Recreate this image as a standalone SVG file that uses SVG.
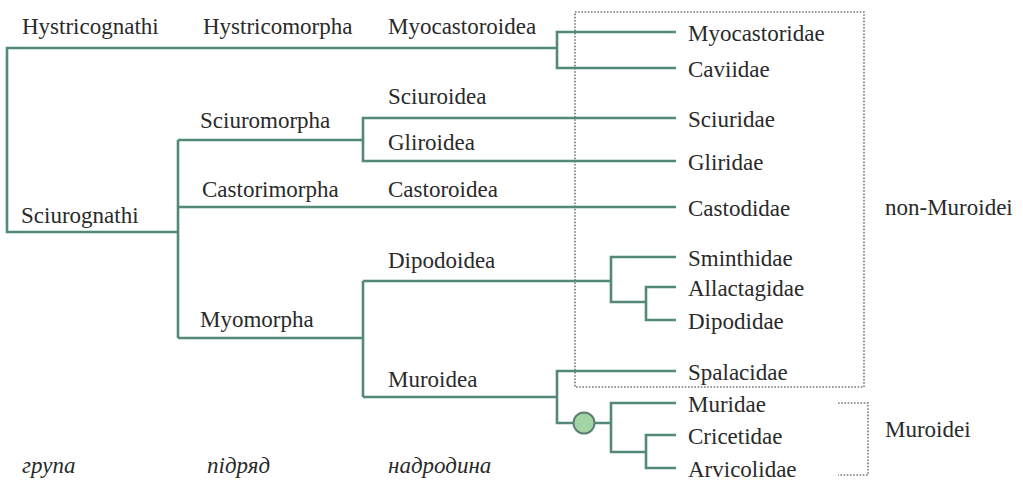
<svg xmlns="http://www.w3.org/2000/svg" width="1023" height="483" viewBox="0 0 1023 483">
<style>
text{font-family:'Liberation Serif','Times New Roman',Times,'DejaVu Serif',serif;font-size:23px;fill:#2a2a2a}
.i{font-style:italic}
.c{fill:none;stroke:#52897a;stroke-width:2.6}
.d{fill:none;stroke:#777;stroke-width:1.6;stroke-dasharray:1.6 1.6}
</style>
<rect width="1023" height="483" fill="#fff"/>
<g id="box-nonmuroidei">
<rect x="575" y="12" width="289" height="375" fill="#ebedec" class="d"/>
<text x="885" y="215">non-Muroidei</text>
</g>
<g id="connectors">
<path class="c" d="M557,48 H7 V232 H178"/>
<path class="c" d="M676,32 H557 V68 H676"/>
<path class="c" d="M178,140 V338"/>
<path class="c" d="M178,140 H363"/>
<path class="c" d="M178,207 H676"/>
<path class="c" d="M178,338 H363"/>
<path class="c" d="M676,118 H363 V161 H676"/>
<path class="c" d="M363,281 V397"/>
<path class="c" d="M363,281 H611"/>
<path class="c" d="M363,397 H557"/>
<path class="c" d="M676,257 H611 V302 H646"/>
<path class="c" d="M676,287 H646 V320 H676"/>
<path class="c" d="M676,371 H557 V423 H611"/>
<path class="c" d="M676,403 H611 V452 H646"/>
<path class="c" d="M676,435 H646 V468 H676"/>
</g>
<g id="node-muroidei-root">
<circle cx="584" cy="423" r="10.5" fill="#a3d4a6" stroke="#5e7f72" stroke-width="2"/>
</g>
<g id="ranks">
<text class="i" x="22" y="473">група</text>
<text class="i" x="207" y="473">підряд</text>
<text class="i" x="388" y="473">надродина</text>
</g>
<g id="groups">
<text x="22" y="34">Hystricognathi</text>
<text x="21" y="223">Sciurognathi</text>
</g>
<g id="suborders">
<text x="203" y="34">Hystricomorpha</text>
<text x="200" y="128">Sciuromorpha</text>
<text x="202" y="197">Castorimorpha</text>
<text x="200" y="327">Myomorpha</text>
</g>
<g id="superfamilies">
<text x="388" y="34">Myocastoroidea</text>
<text x="388" y="104">Sciuroidea</text>
<text x="388" y="150">Gliroidea</text>
<text x="388" y="197">Castoroidea</text>
<text x="388" y="268">Dipodoidea</text>
<text x="388" y="387">Muroidea</text>
</g>
<g id="families">
<text x="688" y="40.5">Myocastoridae</text>
<text x="688" y="76.5">Caviidae</text>
<text x="688" y="126.5">Sciuridae</text>
<text x="688" y="169.5">Gliridae</text>
<text x="688" y="215.5">Castodidae</text>
<text x="688" y="265.5">Sminthidae</text>
<text x="688" y="295.5">Allactagidae</text>
<text x="688" y="328.5">Dipodidae</text>
<text x="688" y="379.5">Spalacidae</text>
<text x="688" y="411.5">Muridae</text>
<text x="688" y="443.5">Cricetidae</text>
<text x="688" y="476.5">Arvicolidae</text>
</g>
<g id="muroidei">
<path class="d" d="M838,403 H868 V475 H838"/>
<text x="885" y="437">Muroidei</text>
</g>
</svg>
